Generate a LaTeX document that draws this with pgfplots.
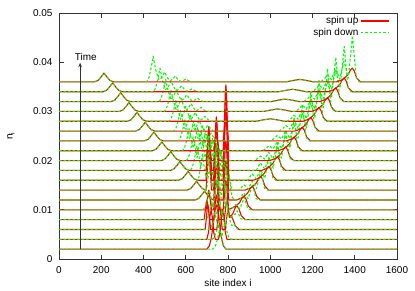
\documentclass[border=0pt]{standalone}
\usepackage{fontspec}
\setmainfont{Liberation Sans}
\usepackage{pgfplots}
\pgfplotsset{compat=1.18}
\usetikzlibrary{arrows.meta}
\pgfplotsset{table/row sep=\\,
  spinup/.style={color=red, line width=1.1bp, no markers, line join=round},
  spindn/.style={color=green, line width=1.1bp, no markers, line join=round, dash pattern=on 2.5bp off 2bp}}
\begin{document}
\begin{tikzpicture}
\begin{axis}[name=ax, scale only axis, width=338bp, height=246bp,
  font=\fontsize{10}{12}\selectfont,
  xmin=0, xmax=1600, ymin=0, ymax=0.05,
  scaled y ticks=false, scaled x ticks=false,
  xtick={0,200,400,600,800,1000,1200,1400,1600},
  xticklabels={0,200,400,600,800,1000,1200,1400,1600},
  ytick={0,0.01,0.02,0.03,0.04,0.05},
  yticklabels={0,0.01,0.02,0.03,0.04,0.05},
  tick align=inside, major tick length=4.5bp,
  axis line style={black!80, line width=0.9bp},
  every tick/.style={black!80, line width=0.8bp},
  xticklabel style={yshift=-4bp},
  yticklabel style={xshift=-3bp},
  xlabel={site index i}, ylabel={n\raisebox{-0.4ex}{\fontsize{7}{8}\selectfont i}},
  xlabel style={at={(axis description cs:0.5,-0.098)}, anchor=center},
  ylabel style={at={(axis description cs:-0.142,0.5)}, anchor=center},
  legend style={at={(axis cs:1565,0.0497)}, anchor=north east, draw=none, fill=none,
    font=\fontsize{10}{11}\selectfont, row sep=-1.5bp, inner sep=0pt},
  legend cell align=right, legend plot pos=right,
  legend image code/.code={\draw[#1] (0bp,0bp) -- (28bp,0bp);},
]
% k=1
\addplot[spinup] table[y expr=\thisrowno{1}+0.002]{0 0\\700 0\\712 0.0007\\722 0.0025\\732 0.0055\\739 0.008\\745 0.009\\751 0.008\\758 0.0055\\768 0.0025\\778 0.0007\\790 0\\1600 0\\};
\addlegendentry{spin up}
\addplot[spindn] table[y expr=\thisrowno{1}+0.002]{0 0\\728 0\\740 0.0006\\750 0.002\\760 0.004\\770 0.002\\780 0.0006\\792 0\\1600 0\\};
\addlegendentry{spin down}
% k=2
\addplot[spinup,forget plot] table[y expr=\thisrowno{1}+0.004]{0 0\\700 0\\708 0.0015\\714 0.0045\\720 0.006\\726 0.0045\\732 0.0015\\740 0\\755 0\\763 0.0015\\769 0.0045\\775 0.006\\781 0.0045\\787 0.0015\\795 0\\1600 0\\};
\addplot[spindn,forget plot] table[y expr=\thisrowno{1}+0.004]{0 0\\725 0\\735 0.0004\\745 0.0015\\755 0.003\\763 0.0015\\770 0.0004\\777 0.0017\\785 0.0035\\794 0.0017\\804 0.0004\\815 0\\1600 0\\};
% k=3
\addplot[spinup,forget plot] table[y expr=\thisrowno{1}+0.006]{0 0\\692 0\\698 0.0025\\702 0.0044\\705 0.005\\708 0.0044\\712 0.0025\\718 0\\747 0\\753 0.0025\\757 0.0044\\760 0.005\\763 0.0044\\767 0.0025\\773 0\\787 0\\793 0.002\\797 0.0035\\800 0.004\\803 0.0035\\808 0.0026\\814 0.0028\\823 0.0021\\834 0.0008\\852 0\\1600 0\\};
\addplot[spindn,forget plot] table[y expr=\thisrowno{1}+0.006]{0 0\\710 0\\720 0.0004\\730 0.0015\\740 0.003\\748 0.0015\\755 0.0004\\762 0.002\\770 0.004\\778 0.002\\785 0.0005\\792 0.002\\800 0.004\\808 0.002\\818 0.0008\\828 0.0012\\836 0.0005\\848 0\\1600 0\\};
% k=4
\addplot[spinup,forget plot] table[y expr=\thisrowno{1}+0.008]{0 0\\687 0\\693 0.002\\697 0.0035\\700 0.004\\703 0.0035\\707 0.002\\713 0\\732 0\\738 0.0025\\742 0.0044\\745 0.005\\748 0.0044\\752 0.0025\\758 0\\782 0\\788 0.002\\792 0.0035\\795 0.004\\798 0.0035\\802 0.002\\808 0.0004\\823 0.0012\\835 0.0025\\843 0.0028\\852 0.0022\\863 0.0008\\881 0\\1600 0\\};
\addplot[spindn,forget plot] table[y expr=\thisrowno{1}+0.008]{0 0\\693 0\\703 0.0004\\714 0.0017\\725 0.0035\\734 0.0017\\741 0.0004\\749 0.0025\\758 0.005\\766 0.0025\\774 0.0006\\782 0.0022\\790 0.0045\\798 0.0022\\807 0.0006\\818 0.0006\\830 0.0011\\835 0.0011\\843 0.0018\\851 0.0011\\861 0.0002\\875 0\\1600 0\\};
% k=5
\addplot[spinup,forget plot] table[y expr=\thisrowno{1}+0.010]{0 0\\696 0\\702 0.002\\706 0.0035\\709 0.004\\712 0.0035\\716 0.002\\722 0\\732 0\\738 0.003\\742 0.0053\\745 0.006\\748 0.0053\\752 0.003\\758 0\\777 0\\783 0.003\\787 0.0053\\790 0.006\\793 0.0053\\797 0.003\\803 0\\815 0.0003\\831 0.0006\\854 0.0014\\868 0.0025\\876 0.0028\\885 0.0022\\896 0.0008\\914 0\\1600 0\\};
\addplot[spindn,forget plot] table[y expr=\thisrowno{1}+0.010]{0 0\\681 0\\691 0.0005\\702 0.002\\713 0.004\\722 0.002\\729 0.0005\\737 0.003\\746 0.006\\755 0.003\\762 0.0007\\770 0.0032\\779 0.0065\\788 0.0032\\797 0.0008\\806 0\\816 0\\828 0.00075\\836 0.0011\\844 0.0008\\856 0.0002\\868 0.0015\\876 0.0025\\884 0.0015\\894 0.00025\\908 0\\1600 0\\};
% k=6
\addplot[spinup,forget plot] table[y expr=\thisrowno{1}+0.012]{0 0\\644 0\\661 0.0003\\675 0.001\\689 0.0018\\703 0.001\\717 0.0003\\732 0\\738 0.0035\\742 0.0062\\745 0.007\\748 0.0062\\752 0.0035\\758 0\\777 0\\783 0.004\\787 0.007\\790 0.008\\793 0.007\\797 0.004\\803 0\\840 0\\870 0.0005\\893 0.0014\\907 0.0025\\915 0.0028\\924 0.0022\\935 0.0008\\953 0\\1600 0\\};
\addplot[spindn,forget plot] table[y expr=\thisrowno{1}+0.012]{0 0\\644 0\\661 0.0003\\675 0.001\\689 0.0018\\703 0.001\\717 0.0003\\734 0\\741 0.0022\\748 0.0045\\755 0.0022\\761 0.0006\\768 0.0035\\775 0.007\\782 0.0035\\788 0.0008\\795 0.0032\\802 0.0065\\810 0.0032\\818 0.0008\\828 0\\855 0\\867 0.00096\\875 0.00144\\883 0.001\\895 0.00026\\907 0.0019\\915 0.0032\\923 0.0019\\933 0.0003\\947 0\\1600 0\\};
% k=7
\addplot[spinup,forget plot] table[y expr=\thisrowno{1}+0.014]{0 0\\606 0\\623 0.0003\\637 0.001\\651 0.0018\\665 0.001\\679 0.0003\\696 0\\702 0.004\\706 0.007\\709 0.008\\712 0.007\\716 0.004\\722 0\\732 0\\738 0.0045\\742 0.0079\\745 0.009\\748 0.0079\\752 0.0045\\758 0\\777 0\\783 0.005\\787 0.0088\\790 0.010\\793 0.0088\\797 0.005\\803 0\\880 0\\910 0.0005\\933 0.0014\\947 0.0025\\955 0.0028\\964 0.0022\\975 0.0008\\993 0\\1600 0\\};
\addplot[spindn,forget plot] table[y expr=\thisrowno{1}+0.014]{0 0\\606 0\\623 0.0003\\637 0.001\\651 0.0018\\665 0.001\\679 0.0003\\696 0\\701 0.0008\\705 0.0022\\712 0.0045\\719 0.0022\\726 0.0006\\733 0.0037\\740 0.0075\\747 0.0037\\754 0.0009\\761 0.0039\\768 0.0078\\775 0.0039\\782 0.0009\\789 0.003\\796 0.006\\805 0.003\\814 0.0007\\824 0\\855 0\\867 0.0007\\875 0.0011\\883 0.0008\\895 0.00024\\907 0.0012\\915 0.0018\\923 0.0013\\935 0.0003\\947 0.0024\\955 0.004\\963 0.0024\\973 0.0004\\987 0\\1600 0\\};
% k=8
\addplot[spinup,forget plot] table[y expr=\thisrowno{1}+0.016]{0 0\\566 0\\583 0.0003\\597 0.001\\611 0.0018\\625 0.001\\639 0.0003\\656 0\\696 0\\702 0.0055\\706 0.0096\\709 0.0109\\712 0.0096\\716 0.0055\\722 0\\732 0\\738 0.0065\\742 0.0114\\745 0.0129\\748 0.0114\\752 0.0065\\758 0\\777 0\\783 0.0073\\787 0.0128\\790 0.0145\\793 0.0128\\797 0.0073\\803 0\\919 0\\949 0.0005\\972 0.0014\\986 0.0025\\994 0.0028\\1003 0.0022\\1014 0.0008\\1032 0\\1600 0\\};
\addplot[spindn,forget plot] table[y expr=\thisrowno{1}+0.016]{0 0\\566 0\\583 0.0003\\597 0.001\\611 0.0018\\625 0.001\\639 0.0003\\656 0\\662 0.0006\\669 0.0025\\680 0.005\\688 0.0025\\696 0.0006\\704 0.0037\\712 0.0075\\720 0.0037\\728 0.0009\\737 0.0037\\745 0.0075\\753 0.0037\\761 0.0006\\770 0.0025\\778 0.005\\789 0.0025\\799 0.0006\\810 0\\894 0\\906 0.00086\\914 0.00134\\922 0.00086\\934 0.0003\\946 0.00144\\954 0.00216\\962 0.00154\\974 0.0004\\986 0.0029\\994 0.0048\\1002 0.0029\\1012 0.0005\\1026 0\\1600 0\\};
% k=9
\addplot[spinup,forget plot] table[y expr=\thisrowno{1}+0.018]{0 0\\527 0\\544 0.0003\\558 0.001\\572 0.0018\\586 0.001\\600 0.0003\\617 0\\696 0\\702 0.004\\706 0.007\\709 0.008\\712 0.007\\716 0.004\\722 0\\732 0\\738 0.005\\742 0.0088\\745 0.010\\748 0.0088\\752 0.005\\758 0\\777 0\\783 0.0077\\787 0.0136\\790 0.0154\\793 0.0136\\797 0.0077\\803 0\\959 0\\989 0.0005\\1012 0.0014\\1026 0.0025\\1034 0.0028\\1043 0.0022\\1054 0.0008\\1072 0\\1600 0\\};
\addplot[spindn,forget plot] table[y expr=\thisrowno{1}+0.018]{0 0\\527 0\\544 0.0003\\558 0.001\\572 0.0018\\586 0.001\\600 0.0003\\617 0\\621 0\\631 0.0006\\642 0.0025\\653 0.005\\664 0.0025\\671 0.0006\\679 0.0034\\690 0.0068\\701 0.0034\\708 0.0008\\715 0.0033\\726 0.0065\\737 0.0033\\744 0.0005\\751 0.002\\762 0.004\\773 0.002\\784 0.0005\\794 0\\934 0\\946 0.001\\954 0.00154\\962 0.001\\974 0.00033\\986 0.00165\\994 0.0025\\1002 0.00176\\1014 0.00044\\1026 0.0033\\1034 0.0055\\1042 0.0033\\1052 0.00055\\1066 0\\1600 0\\};
% k=10
\addplot[spinup,forget plot] table[y expr=\thisrowno{1}+0.020]{0 0\\484 0\\501 0.0003\\515 0.001\\529 0.0018\\543 0.001\\557 0.0003\\574 0\\696 0\\702 0.002\\706 0.0035\\709 0.004\\712 0.0035\\716 0.002\\722 0\\732 0\\738 0.003\\742 0.0053\\745 0.006\\748 0.0053\\752 0.003\\758 0\\777 0\\783 0.0077\\787 0.0136\\790 0.0154\\793 0.0136\\797 0.0077\\803 0\\998 0\\1028 0.0005\\1051 0.0014\\1065 0.0025\\1073 0.0028\\1082 0.0022\\1093 0.0008\\1111 0\\1600 0\\};
\addplot[spindn,forget plot] table[y expr=\thisrowno{1}+0.020]{0 0\\484 0\\501 0.0003\\515 0.001\\529 0.0018\\543 0.001\\557 0.0003\\574 0\\603 0\\613 0.0006\\624 0.0024\\635 0.0048\\646 0.0024\\654 0.0006\\662 0.0029\\673 0.0058\\684 0.0029\\691 0.0006\\699 0.0026\\710 0.0052\\721 0.0026\\729 0.0004\\737 0.0015\\748 0.003\\759 0.0015\\770 0.0004\\780 0\\923 0\\943 0.0005\\953 0.0009\\961 0.00074\\973 0.0003\\985 0.0011\\993 0.0017\\1001 0.0012\\1013 0.00037\\1025 0.0019\\1033 0.0028\\1041 0.002\\1053 0.0005\\1065 0.0037\\1073 0.0062\\1081 0.0037\\1091 0.0006\\1105 0\\1600 0\\};
% k=11
\addplot[spinup,forget plot] table[y expr=\thisrowno{1}+0.022]{0 0\\442 0\\459 0.0003\\473 0.001\\487 0.0018\\501 0.001\\515 0.0003\\532 0\\732 0\\738 0.0015\\742 0.0026\\745 0.003\\748 0.0026\\752 0.0015\\758 0\\777 0\\783 0.004\\787 0.007\\790 0.008\\793 0.007\\797 0.004\\803 0\\1038 0\\1068 0.0005\\1091 0.0014\\1105 0.0025\\1113 0.0028\\1122 0.0022\\1133 0.0008\\1151 0\\1600 0\\};
\addplot[spindn,forget plot] table[y expr=\thisrowno{1}+0.022]{0 0\\442 0\\459 0.0003\\473 0.001\\487 0.0018\\501 0.001\\515 0.0003\\532 0\\584 0\\594 0.00055\\605 0.00225\\616 0.0045\\627 0.00225\\636 0.0005\\645 0.0024\\656 0.0048\\667 0.0024\\675 0.0005\\684 0.002\\695 0.004\\706 0.002\\715 0.0003\\724 0.0011\\735 0.0022\\746 0.0011\\757 0.0003\\767 0\\963 0\\983 0.00054\\993 0.001\\1001 0.00082\\1013 0.00034\\1025 0.0012\\1033 0.0019\\1041 0.0014\\1053 0.0004\\1065 0.002\\1073 0.0031\\1081 0.0022\\1093 0.00054\\1105 0.0041\\1113 0.0068\\1121 0.0041\\1131 0.00068\\1145 0\\1600 0\\};
% k=12
\addplot[spinup,forget plot] table[y expr=\thisrowno{1}+0.024]{0 0\\404 0\\421 0.0003\\435 0.001\\449 0.0018\\463 0.001\\477 0.0003\\494 0\\777 0\\783 0.002\\787 0.0035\\790 0.004\\793 0.0035\\797 0.002\\803 0\\1077 0\\1107 0.0005\\1130 0.0014\\1144 0.0025\\1152 0.0028\\1161 0.0022\\1172 0.0008\\1190 0\\1600 0\\};
\addplot[spindn,forget plot] table[y expr=\thisrowno{1}+0.024]{0 0\\404 0\\421 0.0003\\435 0.001\\449 0.0018\\463 0.001\\477 0.0003\\494 0\\564 0\\574 0.0005\\585 0.00215\\596 0.0043\\607 0.00215\\617 0.0005\\627 0.002\\638 0.004\\649 0.002\\659 0.0004\\669 0.0015\\680 0.003\\691 0.0015\\700 0.0002\\709 0.0008\\720 0.0016\\731 0.0008\\742 0.0002\\752 0\\1002 0\\1022 0.0006\\1032 0.0011\\1040 0.0009\\1052 0.00037\\1064 0.0013\\1072 0.0021\\1080 0.0015\\1092 0.00044\\1104 0.0022\\1112 0.0033\\1120 0.0024\\1132 0.0006\\1144 0.0044\\1152 0.0074\\1160 0.0044\\1170 0.00074\\1184 0\\1600 0\\};
% k=13
\addplot[spinup,forget plot] table[y expr=\thisrowno{1}+0.026]{0 0\\363 0\\380 0.0003\\394 0.001\\408 0.0018\\422 0.001\\436 0.0003\\453 0\\1117 0\\1147 0.0005\\1170 0.0014\\1184 0.0025\\1192 0.0028\\1201 0.0022\\1212 0.0008\\1230 0\\1600 0\\};
\addplot[spindn,forget plot] table[y expr=\thisrowno{1}+0.026]{0 0\\363 0\\380 0.0003\\394 0.001\\408 0.0018\\422 0.001\\436 0.0003\\453 0\\543 0\\553 0.0005\\564 0.0021\\575 0.0042\\586 0.0021\\597 0.0004\\609 0.0017\\620 0.0034\\631 0.0017\\641 0.0003\\652 0.0011\\663 0.0022\\674 0.0011\\684 0.00015\\694 0.0006\\705 0.0012\\716 0.0006\\727 0.00015\\737 0\\1042 0\\1062 0.00063\\1072 0.0012\\1080 0.00095\\1092 0.0004\\1104 0.0014\\1112 0.0022\\1120 0.0016\\1132 0.00047\\1144 0.0024\\1152 0.0036\\1160 0.0025\\1172 0.00063\\1184 0.0047\\1192 0.0079\\1200 0.0047\\1210 0.0008\\1224 0\\1600 0\\};
% k=14
\addplot[spinup,forget plot] table[y expr=\thisrowno{1}+0.028]{0 0\\324 0\\341 0.0003\\355 0.001\\369 0.0018\\383 0.001\\397 0.0003\\414 0\\935 0\\970 0.0003\\1000 0.0005\\1030 0.0003\\1065 0\\1156 0\\1186 0.0005\\1209 0.0014\\1223 0.0025\\1231 0.0028\\1240 0.0022\\1251 0.0008\\1269 0\\1600 0\\};
\addplot[spindn,forget plot] table[y expr=\thisrowno{1}+0.028]{0 0\\324 0\\341 0.0003\\355 0.001\\369 0.0018\\383 0.001\\397 0.0003\\414 0\\521 0\\531 0.0005\\542 0.0021\\553 0.0042\\564 0.0021\\576 0.0004\\589 0.0015\\600 0.003\\611 0.0015\\622 0.0002\\634 0.0009\\645 0.0018\\656 0.0009\\667 0.00012\\679 0.0005\\690 0.001\\701 0.0005\\712 0.00012\\722 0\\935 0\\970 0.0003\\1000 0.0005\\1030 0.0003\\1065 0\\1081 0\\1101 0.00066\\1111 0.0012\\1119 0.001\\1131 0.0004\\1143 0.0015\\1151 0.0023\\1159 0.0017\\1171 0.0005\\1183 0.0025\\1191 0.0037\\1199 0.0027\\1211 0.00066\\1223 0.005\\1231 0.0083\\1239 0.005\\1249 0.00083\\1263 0\\1600 0\\};
% k=15
\addplot[spinup,forget plot] table[y expr=\thisrowno{1}+0.030]{0 0\\286 0\\303 0.0003\\317 0.001\\331 0.0018\\345 0.001\\359 0.0003\\376 0\\970 0\\1005 0.0003\\1035 0.0005\\1065 0.0003\\1100 0\\1196 0\\1226 0.0005\\1249 0.0014\\1263 0.0025\\1271 0.0028\\1280 0.0022\\1291 0.0008\\1309 0\\1600 0\\};
\addplot[spindn,forget plot] table[y expr=\thisrowno{1}+0.030]{0 0\\286 0\\303 0.0003\\317 0.001\\331 0.0018\\345 0.001\\359 0.0003\\376 0\\498 0\\508 0.0005\\519 0.00215\\530 0.0043\\541 0.00215\\554 0.0004\\567 0.0013\\578 0.0026\\589 0.0013\\601 0.0002\\614 0.0008\\625 0.0016\\636 0.0008\\648 0.0001\\661 0.0004\\672 0.0008\\683 0.0004\\694 0.0001\\704 0\\970 0\\1005 0.0003\\1035 0.0005\\1065 0.0003\\1100 0\\1121 0\\1141 0.0007\\1151 0.0013\\1159 0.001\\1171 0.00044\\1183 0.0016\\1191 0.0024\\1199 0.0017\\1211 0.0005\\1223 0.0026\\1231 0.0039\\1239 0.0028\\1251 0.0007\\1263 0.0052\\1271 0.0087\\1279 0.0052\\1289 0.00087\\1303 0\\1600 0\\};
% k=16
\addplot[spinup,forget plot] table[y expr=\thisrowno{1}+0.032]{0 0\\247 0\\264 0.0003\\278 0.001\\292 0.0018\\306 0.001\\320 0.0003\\337 0\\1005 0\\1040 0.0003\\1070 0.0005\\1100 0.0003\\1135 0\\1235 0\\1265 0.0005\\1288 0.0014\\1302 0.0025\\1310 0.0028\\1319 0.0022\\1330 0.0008\\1348 0\\1600 0\\};
\addplot[spindn,forget plot] table[y expr=\thisrowno{1}+0.032]{0 0\\247 0\\264 0.0003\\278 0.001\\292 0.0018\\306 0.001\\320 0.0003\\337 0\\473 0\\483 0.00054\\494 0.00225\\505 0.0045\\516 0.00225\\530 0.0004\\544 0.0012\\555 0.0024\\566 0.0012\\580 0.0002\\594 0.0007\\605 0.0014\\616 0.0007\\630 0.0001\\644 0.00035\\655 0.0007\\666 0.00035\\677 0.0001\\687 0\\1005 0\\1040 0.0003\\1070 0.0005\\1100 0.0003\\1135 0\\1160 0\\1180 0.0007\\1190 0.00135\\1198 0.0011\\1210 0.00045\\1222 0.0016\\1230 0.0025\\1238 0.0018\\1250 0.00054\\1262 0.0027\\1270 0.004\\1278 0.0029\\1290 0.0007\\1302 0.0054\\1310 0.009\\1318 0.0054\\1328 0.0009\\1342 0\\1600 0\\};
% k=17
\addplot[spinup,forget plot] table[y expr=\thisrowno{1}+0.034]{0 0\\209 0\\226 0.0003\\240 0.001\\254 0.0018\\268 0.001\\282 0.0003\\299 0\\1040 0\\1075 0.0003\\1105 0.0005\\1135 0.0003\\1170 0\\1275 0\\1305 0.0005\\1328 0.0014\\1342 0.0025\\1350 0.0028\\1359 0.0022\\1370 0.0008\\1388 0\\1600 0\\};
\addplot[spindn,forget plot] table[y expr=\thisrowno{1}+0.034]{0 0\\209 0\\226 0.0003\\240 0.001\\254 0.0018\\268 0.001\\282 0.0003\\299 0\\446 0\\456 0.0006\\467 0.0024\\478 0.0048\\489 0.0024\\504 0.0004\\519 0.0011\\530 0.0022\\541 0.0011\\555 0.0002\\569 0.0006\\580 0.0012\\591 0.0006\\605 0.0001\\619 0.0003\\630 0.0006\\641 0.0003\\652 0.00007\\662 0\\1040 0\\1075 0.0003\\1105 0.0005\\1135 0.0003\\1170 0\\1200 0\\1220 0.00074\\1230 0.0014\\1238 0.0011\\1250 0.00046\\1262 0.0017\\1270 0.0026\\1278 0.0018\\1290 0.00055\\1302 0.0028\\1310 0.0041\\1318 0.0029\\1330 0.00074\\1342 0.0055\\1350 0.0092\\1358 0.0055\\1368 0.0009\\1382 0\\1600 0\\};
% k=18
\addplot[spinup,forget plot] table[y expr=\thisrowno{1}+0.036]{0 0\\168 0\\185 0.0003\\199 0.001\\213 0.0018\\227 0.001\\241 0.0003\\258 0\\1075 0\\1110 0.0003\\1140 0.0005\\1170 0.0003\\1205 0\\1314 0\\1344 0.0005\\1367 0.0014\\1381 0.0025\\1389 0.0028\\1398 0.0022\\1409 0.0008\\1427 0\\1600 0\\};
\addplot[spindn,forget plot] table[y expr=\thisrowno{1}+0.036]{0 0\\168 0\\185 0.0003\\199 0.001\\213 0.0018\\227 0.001\\241 0.0003\\258 0\\414 0\\424 0.0006\\435 0.0026\\446 0.0052\\457 0.0026\\473 0.0004\\489 0.001\\500 0.002\\511 0.001\\525 0.0002\\539 0.0006\\550 0.0012\\561 0.0006\\575 0.0001\\589 0.0003\\600 0.0006\\611 0.0003\\622 0.00007\\632 0\\1075 0\\1110 0.0003\\1140 0.0005\\1170 0.0003\\1205 0\\1239 0\\1259 0.00075\\1269 0.0014\\1277 0.0011\\1289 0.00047\\1301 0.0017\\1309 0.0026\\1317 0.0019\\1329 0.00056\\1341 0.0028\\1349 0.0042\\1357 0.003\\1369 0.00075\\1381 0.0056\\1389 0.0094\\1397 0.0056\\1407 0.0009\\1421 0\\1600 0\\};
% time arrow
\draw[black!80, line width=0.8bp, -{Stealth[length=4.5bp, width=3.5bp]}] (axis cs:100,0.002) -- (axis cs:100,0.0399);
\node[font=\fontsize{10}{12}\selectfont, anchor=center] at (axis cs:127,0.0411) {Time};
\end{axis}
\pgfresetboundingbox
\path ([xshift=-59bp,yshift=-32bp]ax.south west) rectangle ([xshift=18bp,yshift=13bp]ax.north east);
\end{tikzpicture}
\end{document}
